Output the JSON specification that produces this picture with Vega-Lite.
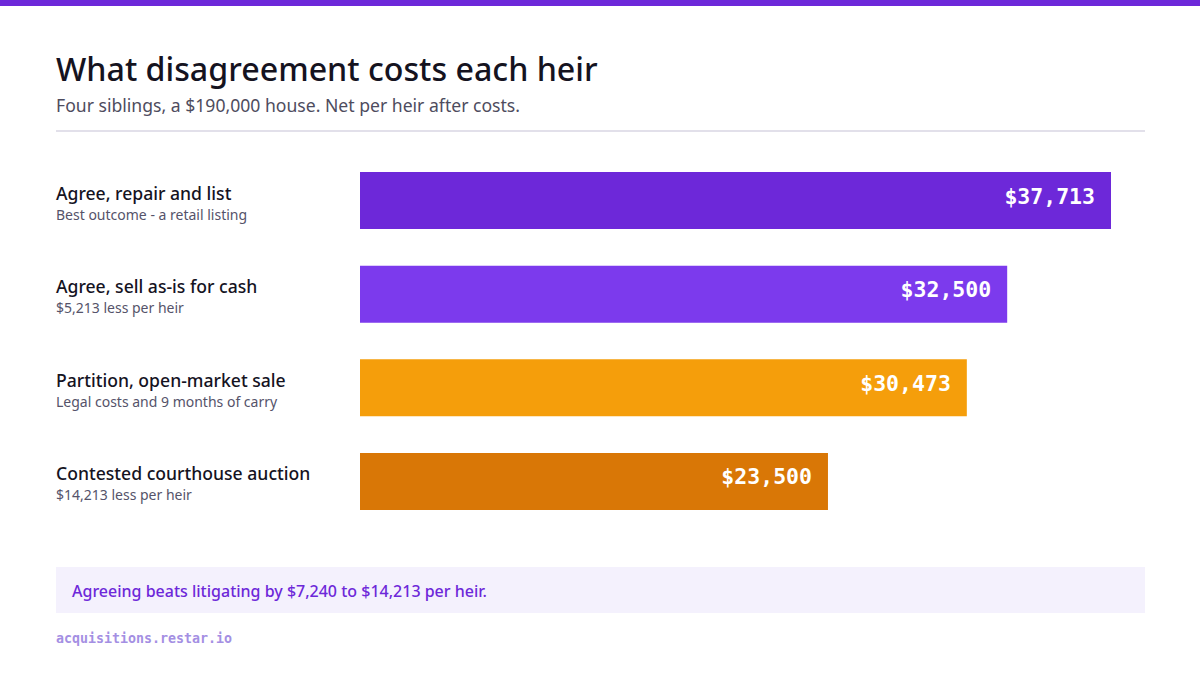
{
  "$schema": "https://vega.github.io/schema/vega-lite/v6.json",
  "width": 1089,
  "height": 555,
  "autosize": "none",
  "padding": {"left": 56, "top": 120, "right": 55, "bottom": 0},
  "background": "#ffffff",
  "config": {
    "view": {"stroke": null},
    "font": "Noto Sans"
  },
  "datasets": {
    "rows": [
      {"scenario": "Agree, repair and list", "note": "Best outcome - a retail listing", "net": 37713, "label": "$37,713"},
      {"scenario": "Agree, sell as-is for cash", "note": "$5,213 less per heir", "net": 32500, "label": "$32,500"},
      {"scenario": "Partition, open-market sale", "note": "Legal costs and 9 months of carry", "net": 30473, "label": "$30,473"},
      {"scenario": "Contested courthouse auction", "note": "$14,213 less per heir", "net": 23500, "label": "$23,500"}
    ],
    "single": [{"one": 1}]
  },
  "layer": [
    {
      "data": {"name": "single"},
      "mark": {"type": "rect", "color": "#6d28d9", "clip": false},
      "encoding": {
        "x": {"value": -56},
        "x2": {"value": 1144},
        "y": {"value": -120},
        "y2": {"value": -114}
      }
    },
    {
      "data": {"name": "single"},
      "mark": {"type": "text", "text": "What disagreement costs each heir", "align": "left", "baseline": "alphabetic", "fontSize": 32.2, "fontWeight": 500, "color": "#15131f"},
      "encoding": {"x": {"value": 0}, "y": {"value": -39}}
    },
    {
      "data": {"name": "single"},
      "mark": {"type": "text", "text": "Four siblings, a $190,000 house. Net per heir after costs.", "align": "left", "baseline": "alphabetic", "fontSize": 17.6, "color": "#4e4c5e"},
      "encoding": {"x": {"value": 0}, "y": {"value": -8}}
    },
    {
      "data": {"name": "single"},
      "mark": {"type": "rule", "color": "#e2e0ea", "strokeWidth": 2},
      "encoding": {"x": {"value": 0}, "x2": {"value": 1089}, "y": {"value": 11}}
    },
    {
      "data": {"name": "rows"},
      "encoding": {
        "y": {
          "field": "scenario",
          "type": "nominal",
          "sort": null,
          "axis": null,
          "scale": {"range": [52, 390], "paddingInner": 0.39, "paddingOuter": 0}
        }
      },
      "layer": [
        {
          "mark": {"type": "bar"},
          "encoding": {
            "x": {
              "field": "net",
              "type": "quantitative",
              "axis": null,
              "scale": {"domain": [0, 37713], "range": [304, 1055], "nice": false, "zero": true}
            },
            "color": {
              "field": "scenario",
              "type": "nominal",
              "legend": null,
              "scale": {
                "domain": ["Agree, repair and list", "Agree, sell as-is for cash", "Partition, open-market sale", "Contested courthouse auction"],
                "range": ["#6d28d9", "#7c3aed", "#f59e0b", "#d97706"]
              }
            }
          }
        },
        {
          "mark": {"type": "text", "align": "right", "baseline": "middle", "dx": -16, "dy": -3, "font": "DejaVu Sans Mono", "fontSize": 21.5, "fontWeight": "bold", "color": "#ffffff"},
          "encoding": {
            "x": {"field": "net", "type": "quantitative"},
            "text": {"field": "label", "type": "nominal"}
          }
        },
        {
          "mark": {"type": "text", "align": "left", "baseline": "alphabetic", "dy": -1, "fontSize": 17.6, "fontWeight": 500, "color": "#15131f"},
          "encoding": {
            "x": {"value": 0},
            "text": {"field": "scenario", "type": "nominal"}
          }
        },
        {
          "mark": {"type": "text", "align": "left", "baseline": "alphabetic", "dy": 19, "fontSize": 14, "color": "#55536a"},
          "encoding": {
            "x": {"value": 0},
            "text": {"field": "note", "type": "nominal"}
          }
        }
      ]
    },
    {
      "data": {"name": "single"},
      "mark": {"type": "rect", "color": "#f4f1fd"},
      "encoding": {"x": {"value": 0}, "x2": {"value": 1089}, "y": {"value": 447}, "y2": {"value": 493}}
    },
    {
      "data": {"name": "single"},
      "mark": {"type": "text", "text": "Agreeing beats litigating by $7,240 to $14,213 per heir.", "align": "left", "baseline": "alphabetic", "fontSize": 16, "fontWeight": 500, "color": "#6d28d9"},
      "encoding": {"x": {"value": 16}, "y": {"value": 477}}
    },
    {
      "data": {"name": "single"},
      "mark": {"type": "text", "text": "acquisitions.restar.io", "align": "left", "baseline": "alphabetic", "font": "DejaVu Sans Mono", "fontSize": 13.3, "fontWeight": "bold", "color": "#a48fe3"},
      "encoding": {"x": {"value": 0}, "y": {"value": 523}}
    }
  ]
}
